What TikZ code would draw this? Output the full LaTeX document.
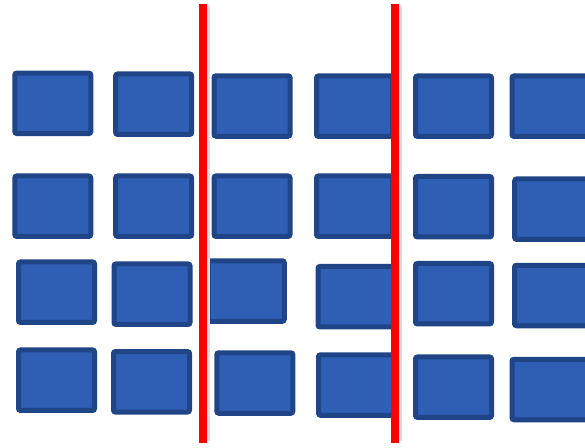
\documentclass[tikz,border=0pt]{standalone}
\usepackage{tikz}

\definecolor{tilefill}{RGB}{47,94,181}
\definecolor{tileedge}{RGB}{31,69,135}
\definecolor{cutred}{RGB}{255,0,0}

\begin{document}
\begin{tikzpicture}[
x=1pt, y=-1pt,
tile/.style={draw=tileedge, fill=tilefill, line width=5pt, rounded corners=2pt,
  rectangle, minimum width=76pt, minimum height=60.5pt, inner sep=0pt, outer sep=0pt},
cut/.style={cutred, line width=8pt},
cutshade/.style={black!12, line width=5pt}
]

\useasboundingbox (0,0) rectangle (585,447);
\clip (0,0) rectangle (585,447);

\node[tile] (r1c1) at (52.8,103.3) {};
\node[tile] (r1c2) at (153.7,104.2) {};
\node[tile] (r1c3) at (252,106) {};
\node[tile] (r1c4) at (354.5,106.2) {};
\node[tile] (r1c5) at (453.5,106.2) {};
\node[tile] (r1c6) at (550,106.2) {};

\node[tile] (r2c1) at (52.8,206.2) {};
\node[tile] (r2c2) at (153.7,206.2) {};
\node[tile] (r2c3) at (252,206.2) {};
\node[tile] (r2c4) at (354.5,206.2) {};
\node[tile] (r2c5) at (453.5,206.7) {};
\node[tile] (r2c6) at (552.7,209.2) {};

\node[tile] (r3c1) at (56.5,292.2) {};
\node[tile] (r3c2) at (152,294.2) {};
\node[tile] (r3c3) at (246.3,291) {};
\node[tile] (r3c4) at (356,296.7) {};
\node[tile] (r3c5) at (453.5,293.7) {};
\node[tile] (r3c6) at (552.5,295.5) {};

\node[tile] (r4c1) at (56.5,380.2) {};
\node[tile] (r4c2) at (151.5,381.8) {};
\node[tile] (r4c3) at (254.8,383) {};
\node[tile] (r4c4) at (356.5,385) {};
\node[tile] (r4c5) at (453.5,387.2) {};
\node[tile] (r4c6) at (550,389.5) {};

\coordinate (cutAtop) at (203,4.3);
\coordinate (cutAbot) at (203,442.7);
\coordinate (cutBtop) at (395,4.3);
\coordinate (cutBbot) at (395,442.7);

\draw[cutshade] ([xshift=4pt,yshift=-2pt]cutAtop) -- ([xshift=4pt,yshift=2pt]cutAbot);
\draw[cutshade] ([xshift=4pt,yshift=-2pt]cutBtop) -- ([xshift=4pt,yshift=2pt]cutBbot);
\draw[cut] (cutAtop) -- (cutAbot);
\draw[cut] (cutBtop) -- (cutBbot);

\end{tikzpicture}
\end{document}
